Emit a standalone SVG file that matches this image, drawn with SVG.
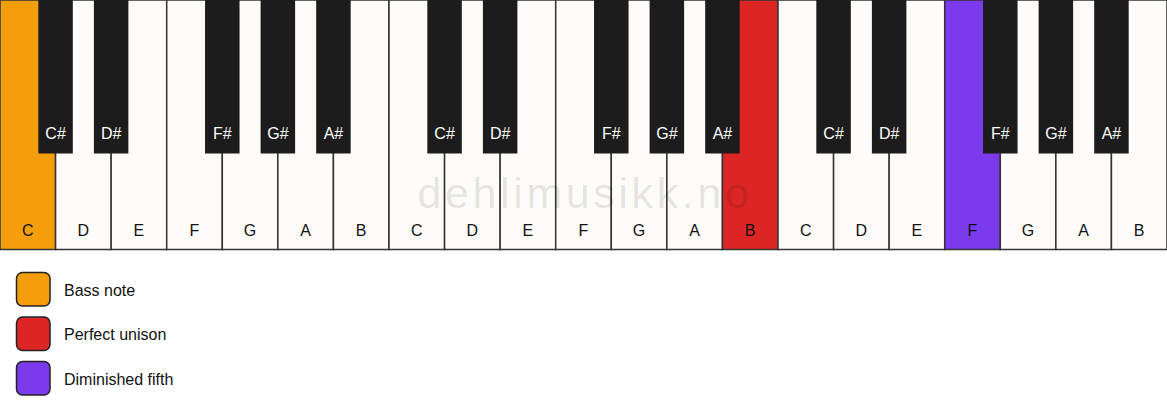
<svg xmlns="http://www.w3.org/2000/svg" width="1167" height="417" viewBox="0 0 1167 417">
<style>
.w{fill:#fdfcf9;stroke:#333;stroke-width:1.5}
.b{fill:#1c1c1c}
.bass{fill:#f59e0b}
.uni{fill:#dc2626}
.dim{fill:#7c3aed}
.wl{font-family:"Liberation Sans",Arial,sans-serif;font-size:16px;fill:#111;text-anchor:middle}
.bl{font-family:"Liberation Sans",Arial,sans-serif;font-size:16px;fill:#fff;text-anchor:middle}
.lg{stroke:#222;stroke-width:1.5}
.lt{font-family:"Liberation Sans",Arial,sans-serif;font-size:16px;fill:#111}
.wm{font-family:"Liberation Sans",Arial,sans-serif;font-size:43px;fill:#000;fill-opacity:0.1;text-anchor:middle;letter-spacing:3.6px}
</style>
<rect width="1167" height="417" fill="#ffffff"/>
<g id="white-keys">
<g id="w0"><rect class="w bass" x="0" y="0" width="55.571" height="249.5"/><text class="wl" x="27.79" y="236">C</text></g>
<g id="w1"><rect class="w" x="55.571" y="0" width="55.571" height="249.5"/><text class="wl" x="83.36" y="236">D</text></g>
<g id="w2"><rect class="w" x="111.143" y="0" width="55.571" height="249.5"/><text class="wl" x="138.93" y="236">E</text></g>
<g id="w3"><rect class="w" x="166.714" y="0" width="55.571" height="249.5"/><text class="wl" x="194.50" y="236">F</text></g>
<g id="w4"><rect class="w" x="222.286" y="0" width="55.571" height="249.5"/><text class="wl" x="250.07" y="236">G</text></g>
<g id="w5"><rect class="w" x="277.857" y="0" width="55.571" height="249.5"/><text class="wl" x="305.64" y="236">A</text></g>
<g id="w6"><rect class="w" x="333.429" y="0" width="55.571" height="249.5"/><text class="wl" x="361.21" y="236">B</text></g>
<g id="w7"><rect class="w" x="389" y="0" width="55.571" height="249.5"/><text class="wl" x="416.79" y="236">C</text></g>
<g id="w8"><rect class="w" x="444.571" y="0" width="55.571" height="249.5"/><text class="wl" x="472.36" y="236">D</text></g>
<g id="w9"><rect class="w" x="500.143" y="0" width="55.571" height="249.5"/><text class="wl" x="527.93" y="236">E</text></g>
<g id="w10"><rect class="w" x="555.714" y="0" width="55.571" height="249.5"/><text class="wl" x="583.50" y="236">F</text></g>
<g id="w11"><rect class="w" x="611.286" y="0" width="55.571" height="249.5"/><text class="wl" x="639.07" y="236">G</text></g>
<g id="w12"><rect class="w" x="666.857" y="0" width="55.571" height="249.5"/><text class="wl" x="694.64" y="236">A</text></g>
<g id="w13"><rect class="w uni" x="722.429" y="0" width="55.571" height="249.5"/><text class="wl" x="750.21" y="236">B</text></g>
<g id="w14"><rect class="w" x="778" y="0" width="55.571" height="249.5"/><text class="wl" x="805.79" y="236">C</text></g>
<g id="w15"><rect class="w" x="833.571" y="0" width="55.571" height="249.5"/><text class="wl" x="861.36" y="236">D</text></g>
<g id="w16"><rect class="w" x="889.143" y="0" width="55.571" height="249.5"/><text class="wl" x="916.93" y="236">E</text></g>
<g id="w17"><rect class="w dim" x="944.714" y="0" width="55.571" height="249.5"/><text class="wl" x="972.50" y="236">F</text></g>
<g id="w18"><rect class="w" x="1000.286" y="0" width="55.571" height="249.5"/><text class="wl" x="1028.07" y="236">G</text></g>
<g id="w19"><rect class="w" x="1055.857" y="0" width="55.571" height="249.5"/><text class="wl" x="1083.64" y="236">A</text></g>
<g id="w20"><rect class="w" x="1111.429" y="0" width="55.571" height="249.5"/><text class="wl" x="1139.21" y="236">B</text></g>
</g>
<text class="wm" x="585" y="208">dehlimusikk.no</text>
<g id="black-keys">
<g id="b1"><rect class="b" x="38.32" y="0" width="34.5" height="153.5"/><text class="bl" x="55.57" y="139">C#</text></g>
<g id="b2"><rect class="b" x="93.89" y="0" width="34.5" height="153.5"/><text class="bl" x="111.14" y="139">D#</text></g>
<g id="b4"><rect class="b" x="205.04" y="0" width="34.5" height="153.5"/><text class="bl" x="222.29" y="139">F#</text></g>
<g id="b5"><rect class="b" x="260.61" y="0" width="34.5" height="153.5"/><text class="bl" x="277.86" y="139">G#</text></g>
<g id="b6"><rect class="b" x="316.18" y="0" width="34.5" height="153.5"/><text class="bl" x="333.43" y="139">A#</text></g>
<g id="b8"><rect class="b" x="427.32" y="0" width="34.5" height="153.5"/><text class="bl" x="444.57" y="139">C#</text></g>
<g id="b9"><rect class="b" x="482.89" y="0" width="34.5" height="153.5"/><text class="bl" x="500.14" y="139">D#</text></g>
<g id="b11"><rect class="b" x="594.04" y="0" width="34.5" height="153.5"/><text class="bl" x="611.29" y="139">F#</text></g>
<g id="b12"><rect class="b" x="649.61" y="0" width="34.5" height="153.5"/><text class="bl" x="666.86" y="139">G#</text></g>
<g id="b13"><rect class="b" x="705.18" y="0" width="34.5" height="153.5"/><text class="bl" x="722.43" y="139">A#</text></g>
<g id="b15"><rect class="b" x="816.32" y="0" width="34.5" height="153.5"/><text class="bl" x="833.57" y="139">C#</text></g>
<g id="b16"><rect class="b" x="871.89" y="0" width="34.5" height="153.5"/><text class="bl" x="889.14" y="139">D#</text></g>
<g id="b18"><rect class="b" x="983.04" y="0" width="34.5" height="153.5"/><text class="bl" x="1000.29" y="139">F#</text></g>
<g id="b19"><rect class="b" x="1038.61" y="0" width="34.5" height="153.5"/><text class="bl" x="1055.86" y="139">G#</text></g>
<g id="b20"><rect class="b" x="1094.18" y="0" width="34.5" height="153.5"/><text class="bl" x="1111.43" y="139">A#</text></g>
</g>
<g id="legend">
<g id="legend-bass"><rect class="lg bass" x="16.5" y="272.5" width="33.5" height="33.5" rx="6"/><text class="lt" x="64" y="295.5">Bass note</text></g>
<g id="legend-unison"><rect class="lg uni" x="16.5" y="317" width="33.5" height="33.5" rx="6"/><text class="lt" x="64" y="340">Perfect unison</text></g>
<g id="legend-dim"><rect class="lg dim" x="16.5" y="361.5" width="33.5" height="33.5" rx="6"/><text class="lt" x="64" y="384.5">Diminished fifth</text></g>
</g>
</svg>
